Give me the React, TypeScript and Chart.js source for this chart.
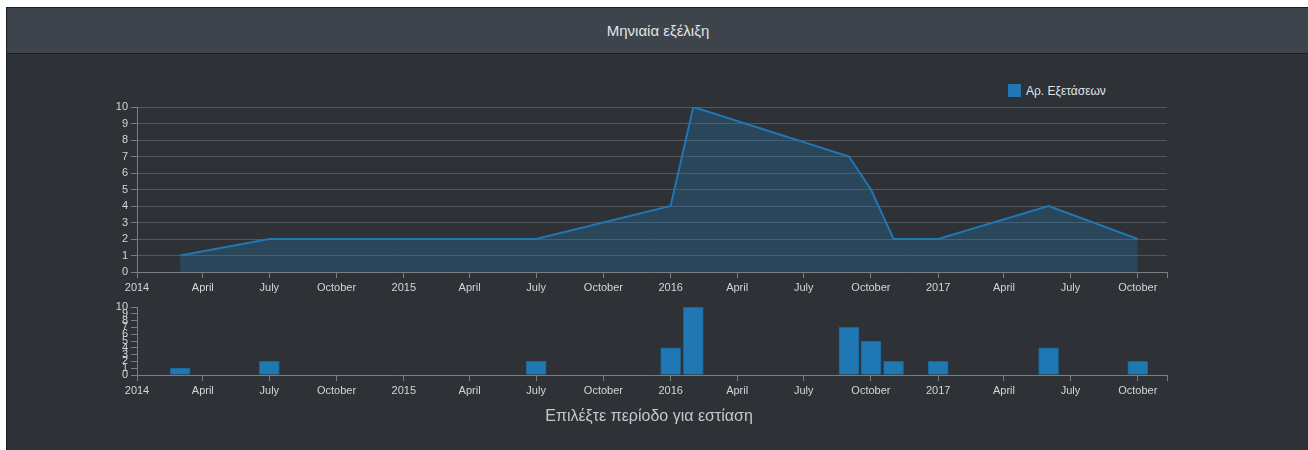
import React, { useEffect, useRef } from "react";
import { Chart, registerables } from "chart.js";

Chart.register(...registerables);

const months = ["2014-03", "2014-07", "2015-07", "2016-01", "2016-02", "2016-09", "2016-10", "2016-11", "2017-01", "2017-06", "2017-10"];
const exams = [1, 2, 2, 4, 10, 7, 5, 2, 2, 4, 2];
const tickDates = ["2014-01", "2014-04", "2014-07", "2014-10", "2015-01", "2015-04", "2015-07", "2015-10", "2016-01", "2016-04", "2016-07", "2016-10", "2017-01", "2017-04", "2017-07", "2017-10"];
const tickLabels = ["2014", "April", "July", "October", "2015", "April", "July", "October", "2016", "April", "July", "October", "2017", "April", "July", "October"];
const axisStart = "2014-01-01";
const axisEnd = "2017-11-10";
const seriesName = "Αρ. Εξετάσεων";
const titleText = "Μηνιαία εξέλιξη";
const brushText = "Επιλέξτε περίοδο για εστίαση";

const toMs = (s: string) => {
  const p = s.split("-").map(Number);
  return Date.UTC(p[0], p[1] - 1, p[2] || 1);
};

const FONT = "'Liberation Sans', Arial, sans-serif";
const BLUE = "#1f77b4";

function xScale(): any {
  const ticksMs = tickDates.map(toMs);
  const maxMs = toMs(axisEnd);
  return {
    type: "linear",
    offset: false,
    min: toMs(axisStart),
    max: maxMs,
    afterBuildTicks: (scale: any) => {
      scale.ticks = [...ticksMs, maxMs].map((v) => ({ value: v }));
    },
    afterFit: (scale: any) => {
      scale.height = 30;
    },
    ticks: {
      autoSkip: false,
      maxRotation: 0,
      padding: 3,
      color: "#d2d5d9",
      font: { family: FONT, size: 11 },
      callback: (_v: any, i: number) => (i < tickLabels.length ? tickLabels[i] : ""),
    },
    grid: { offset: false, drawOnChartArea: false, drawTicks: true, tickLength: 6, tickColor: "#7a7e82" },
    border: { color: "#7a7e82", width: 1 },
  };
}

function yScale(withGrid: boolean): any {
  return {
    min: 0,
    max: 10,
    afterFit: (scale: any) => {
      scale.width = 40;
    },
    ticks: {
      stepSize: 1,
      autoSkip: false,
      padding: 3,
      color: "#d2d5d9",
      font: { family: FONT, size: 11 },
    },
    grid: {
      drawOnChartArea: withGrid,
      color: "#54585c",
      drawTicks: true,
      tickLength: 6,
      tickColor: "#7a7e82",
    },
    border: { color: "#7a7e82", width: 1 },
  };
}

export default function App() {
  const mainRef = useRef<HTMLCanvasElement>(null);
  const subRef = useRef<HTMLCanvasElement>(null);

  useEffect(() => {
    document.body.style.margin = "0";
    document.body.style.background = "#ffffff";
    const pts = months.map((m, i) => ({ x: toMs(m), y: exams[i] }));

    const main = new Chart(mainRef.current!, {
      type: "line",
      data: {
        datasets: [
          {
            label: seriesName,
            data: pts,
            borderColor: BLUE,
            backgroundColor: "rgba(31,119,180,0.3)",
            borderWidth: 2,
            fill: "origin",
            pointRadius: 0,
            tension: 0,
          },
        ],
      },
      options: {
        animation: false,
        responsive: false,
        maintainAspectRatio: false,
        layout: { padding: { left: 97, right: 141, top: 47, bottom: 8 } },
        plugins: { legend: { display: false }, tooltip: { enabled: false } },
        scales: { x: xScale(), y: yScale(true) },
      },
    });

    const sub = new Chart(subRef.current!, {
      type: "bar",
      data: {
        datasets: [
          {
            label: seriesName,
            data: pts,
            backgroundColor: BLUE,
            borderColor: "#1a6596",
            borderWidth: 1,
            barThickness: 20,
          },
        ],
      },
      options: {
        animation: false,
        responsive: false,
        maintainAspectRatio: false,
        layout: { padding: { left: 97, right: 141, top: 12, bottom: 5 } },
        plugins: { legend: { display: false }, tooltip: { enabled: false } },
        scales: { x: xScale(), y: yScale(false) },
      },
    });

    return () => {
      main.destroy();
      sub.destroy();
    };
  }, []);

  return (
    <div style={{ position: "relative", width: 1308, height: 450, overflow: "hidden", fontFamily: FONT }}>
      <div
        style={{
          position: "absolute",
          left: 6,
          top: 7,
          width: 1310,
          height: 450,
          background: "#2e3236",
          borderLeft: "1px solid #1b1e21",
          borderTop: "1px solid #1b1e21",
        }}
      />
      <div
        style={{
          position: "absolute",
          left: 7,
          top: 8,
          width: 1310,
          height: 45,
          background: "#3e444c",
          borderBottom: "1px solid #1b1e21",
        }}
      />
      <div
        style={{
          position: "absolute",
          left: 0,
          top: 22,
          width: 1316,
          textAlign: "center",
          color: "#e2e4e6",
          fontSize: 15,
          lineHeight: "18px",
        }}
      >
        {titleText}
      </div>
      <div style={{ position: "absolute", left: 1008, top: 84, width: 13, height: 13, background: BLUE }} />
      <div
        style={{
          position: "absolute",
          left: 1026,
          top: 83,
          color: "#e2e4e6",
          fontSize: 12,
          lineHeight: "16px",
          whiteSpace: "nowrap",
        }}
      >
        {seriesName}
      </div>
      <canvas
        ref={mainRef}
        width={1308}
        height={250}
        style={{ position: "absolute", left: 0, top: 60, width: 1308, height: 250 }}
      />
      <canvas
        ref={subRef}
        width={1308}
        height={115}
        style={{ position: "absolute", left: 0, top: 295, width: 1308, height: 115 }}
      />
      <div
        style={{
          position: "absolute",
          left: 0,
          top: 406,
          width: 1298,
          textAlign: "center",
          color: "#c4c8cc",
          fontSize: 16,
          lineHeight: "20px",
        }}
      >
        {brushText}
      </div>
    </div>
  );
}
